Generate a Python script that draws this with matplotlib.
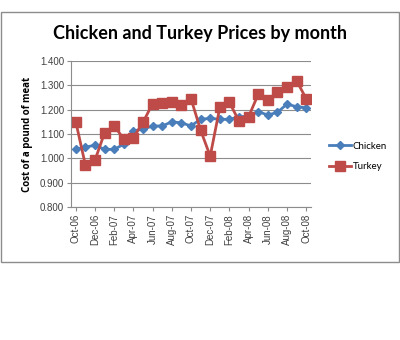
import matplotlib
matplotlib.use("Agg")
import matplotlib.pyplot as plt
from matplotlib.patches import Rectangle

months = ["Oct-06", "Nov-06", "Dec-06", "Jan-07", "Feb-07", "Mar-07", "Apr-07",
          "May-07", "Jun-07", "Jul-07", "Aug-07", "Sep-07", "Oct-07", "Nov-07",
          "Dec-07", "Jan-08", "Feb-08", "Mar-08", "Apr-08", "May-08", "Jun-08",
          "Jul-08", "Aug-08", "Sep-08", "Oct-08"]
chicken = [1.037, 1.046, 1.054, 1.037, 1.037, 1.058, 1.113, 1.120, 1.133, 1.133,
           1.150, 1.146, 1.133, 1.161, 1.164, 1.161, 1.160, 1.171, 1.173, 1.192,
           1.178, 1.189, 1.223, 1.212, 1.208]
turkey = [1.150, 0.972, 0.993, 1.105, 1.134, 1.079, 1.085, 1.148, 1.225, 1.226,
          1.231, 1.219, 1.245, 1.116, 1.009, 1.209, 1.230, 1.153, 1.171, 1.263,
          1.240, 1.272, 1.292, 1.319, 1.245]
yticks = [0.8, 0.9, 1.0, 1.1, 1.2, 1.3, 1.4]

W, H = 400, 340
fig = plt.figure(figsize=(4, 3.4), dpi=100)

# chart area border
fig.patches.append(Rectangle((1 / W, 1 - 262 / H), 398 / W, 250 / H,
                             transform=fig.transFigure, fill=False,
                             edgecolor="#8c8c8c", linewidth=1))

ax = fig.add_axes([71 / W, 1 - 207 / H, 240 / W, 146 / H])
x = list(range(len(months)))
ax.plot(x, chicken, color="#4a7ebb", linewidth=2, marker="D", markersize=4,
        label="Chicken")
ax.plot(x, turkey, color="#be4b48", linewidth=2, marker="s", markersize=6.5,
        label="Turkey")

ax.set_xlim(-0.5, len(months) - 0.5)
ax.set_ylim(0.8, 1.4)
ax.set_yticks(yticks)
ax.set_yticklabels([f"{v:.3f}" for v in yticks], fontsize=7,
                   family="Liberation Sans", color="#404040")
ax.set_xticks(x[::2])
ax.set_xticklabels(months[::2], rotation=90, fontsize=7,
                   family="Liberation Sans", color="#404040")
ax.grid(axis="y", color="#8c8c8c", linewidth=0.8)
ax.set_axisbelow(True)
for s in ["top", "right"]:
    ax.spines[s].set_visible(False)
for s in ["left", "bottom"]:
    ax.spines[s].set_color("#8c8c8c")
ax.tick_params(axis="both", length=3, color="#8c8c8c", pad=2)

ax.set_ylabel("Cost of a pound of meat", fontsize=7, fontweight="bold",
              family="Open Sans", labelpad=5)

fig.text(200 / W, 1 - 34 / H, "Chicken and Turkey Prices by month",
         ha="center", va="center", fontsize=13, family="Lato", fontweight="bold")

ax.legend(loc="center left", bbox_to_anchor=(1.04, 0.345), frameon=False,
          prop={"family": "Lato", "size": 7}, handlelength=2.2,
          handletextpad=0.2, labelspacing=1.2)

fig.savefig("out.png", dpi=100)
